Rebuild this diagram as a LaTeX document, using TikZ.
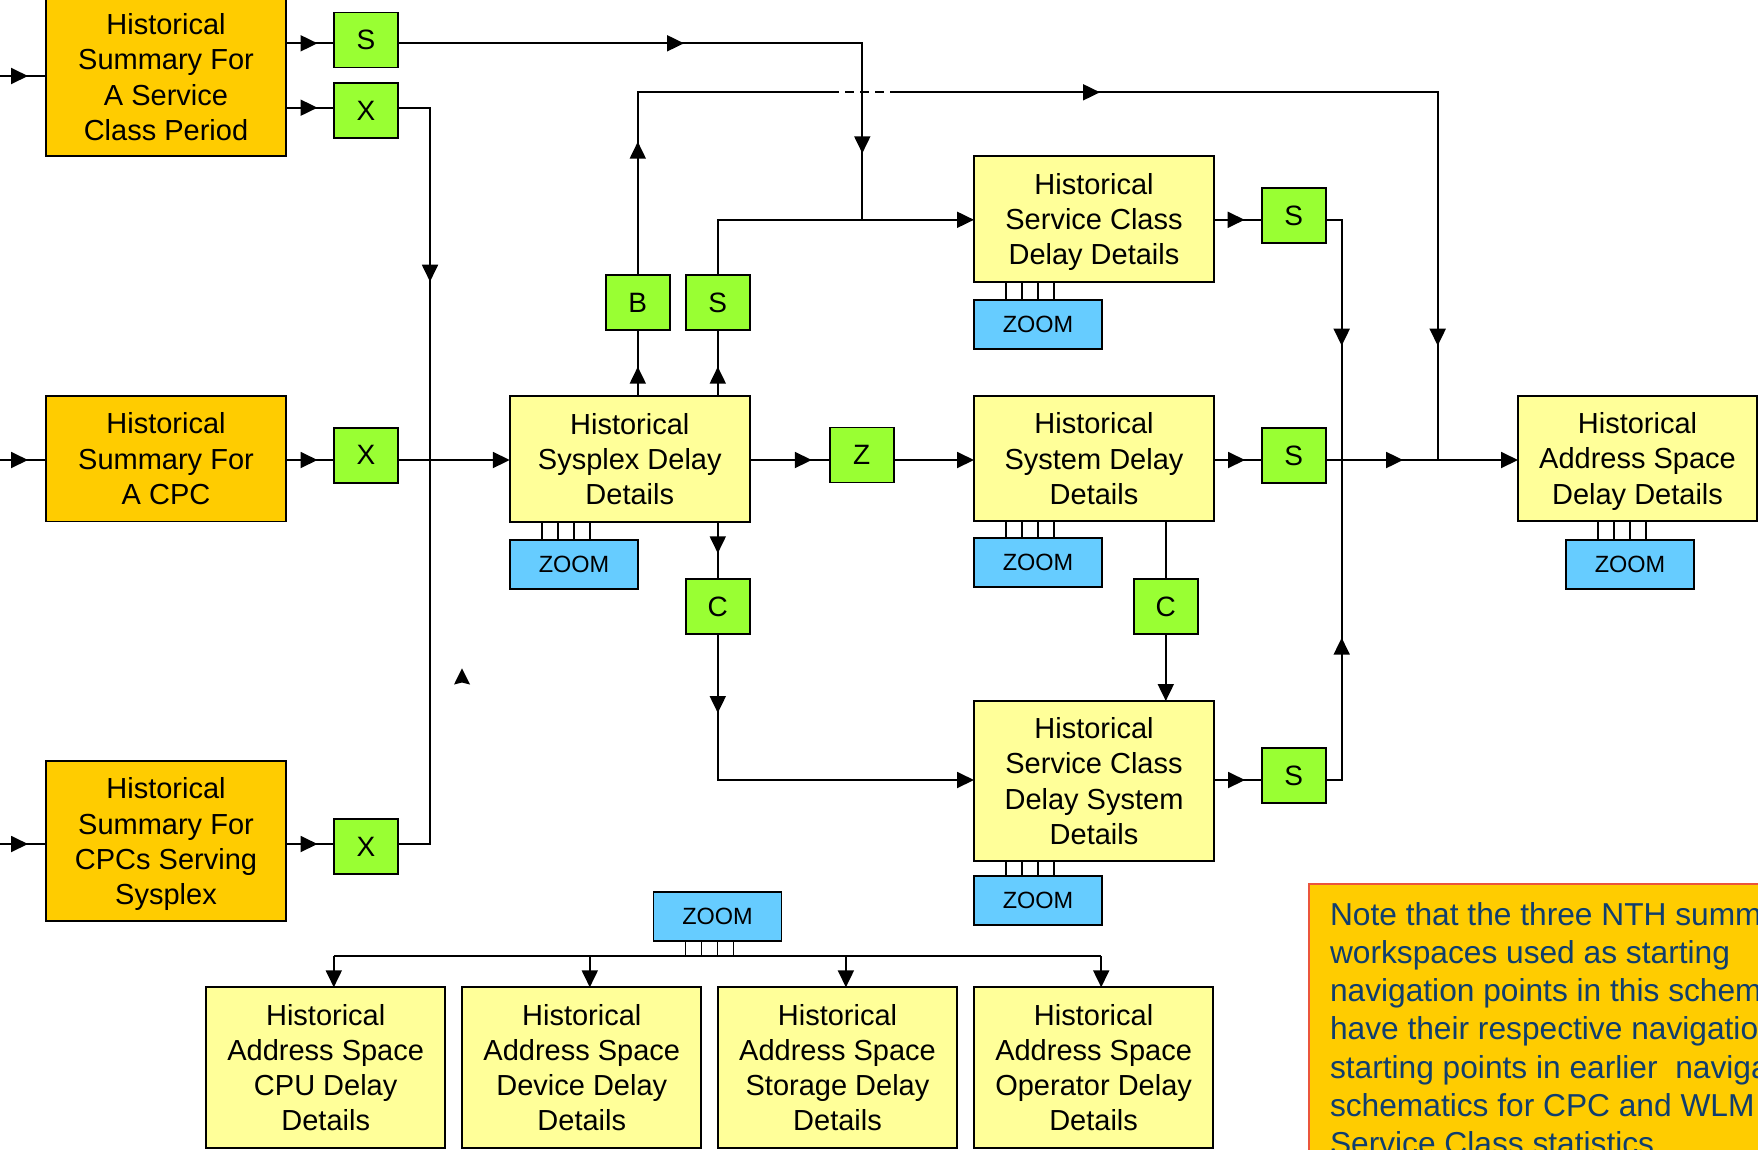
\documentclass[tikz,border=0pt]{standalone}
\usepackage{fontspec}
\setmainfont{Liberation Sans}
\usetikzlibrary{arrows.meta,decorations.markings}

\definecolor{sumorange}{RGB}{255,204,0}
\definecolor{navgreen}{RGB}{153,255,51}
\definecolor{detyellow}{RGB}{255,255,153}
\definecolor{zoomblue}{RGB}{102,204,255}
\definecolor{noteedge}{RGB}{235,85,60}
\definecolor{notetext}{RGB}{16,62,110}

% four short links between a ZOOM box and the box (or bus) it hangs from
\newcommand\zoomlinks[2]{%
  \foreach \dx in {32,48,64,80}{%
    \coordinate (zl) at ([xshift=\dx]#1);
    \draw[link] (zl) -- (zl |- #2);
  }%
}

\begin{document}
\begin{tikzpicture}[x=1pt,y=-1pt,
  >={Triangle[length=17pt,width=16pt]},
  every node/.style={inner sep=0pt, outer sep=0pt},
  box/.style={draw=black, line width=1.8pt, align=center, text depth=0pt,
    font=\fontsize{29}{35.3}\selectfont},
  summary/.style={box, fill=sumorange, minimum width=240},
  detail/.style={box, fill=detyellow, minimum width=240},
  nav/.style={box, fill=navgreen, minimum width=64, minimum height=55,
    font=\fontsize{28}{30}\selectfont},
  zoombox/.style={draw=black, line width=1.8pt, fill=zoomblue,
    minimum width=128, minimum height=48.7, font=\fontsize{23.5}{26}\selectfont},
  conn/.style={line width=1.9pt},
  link/.style={line width=1.1pt},
  arr/.style={conn, ->},
  midarr/.style={postaction={decorate, decoration={markings,
    mark=at position #1 with {\arrow{>}}}}},
]
\useasboundingbox (0,0) rectangle (1758,1149);
\fill[white] (0,0) rectangle (1758,1149);
\clip (0,0) rectangle (1758,1149);

% ---------- summary workspaces ----------
\node[summary, minimum height=157.7] (sumSC) at (166,76.9)
  {Historical\\Summary For\\A Service\\Class Period};
\node[summary, minimum height=125.6] (sumCPC) at (166,458.6)
  {Historical\\Summary For\\A CPC};
\node[summary, minimum height=160] (sumPlex) at (166,841.3)
  {Historical\\Summary For\\CPCs Serving\\Sysplex};

% ---------- navigation links ----------
\node[nav] (navS1) at (366,40) {S};
\node[nav] (navX1) at (366,110.7) {X};
\node[nav] (navX2) at (366,455.3) {X};
\node[nav] (navX3) at (366,846.7) {X};
\node[nav] (navB)  at (637.8,302.7) {B};
\node[nav] (navS2) at (717.8,302.7) {S};
\node[nav] (navC1) at (717.8,606.8) {C};
\node[nav] (navZ)  at (861.7,455) {Z};
\node[nav] (navS3) at (1293.8,215.7) {S};
\node[nav] (navS4) at (1293.8,455.3) {S};
\node[nav] (navC2) at (1165.8,606.8) {C};
\node[nav] (navS5) at (1293.8,775.5) {S};

% ---------- detail workspaces ----------
\node[detail, minimum height=125.4] (sysplex) at (629.8,459)
  {Historical\\Sysplex Delay\\Details};
\node[detail, minimum height=126] (scDelay) at (1094,219)
  {Historical\\Service Class\\Delay Details};
\node[detail, minimum height=125] (sysDelay) at (1094,458.5)
  {Historical\\System Delay\\Details};
\node[detail, minimum height=160] (scSys) at (1094,781)
  {Historical\\Service Class\\Delay System\\Details};
\node[detail, minimum height=125.3, minimum width=239] (asDelay) at (1637.5,458.4)
  {Historical\\Address Space\\Delay Details};

\node[detail, minimum height=160.4, minimum width=239] (asCPU) at (325.7,1067.5)
  {Historical\\Address Space\\CPU Delay\\Details};
\node[detail, minimum height=160.4, minimum width=239] (asDev) at (581.8,1067.5)
  {Historical\\Address Space\\Device Delay\\Details};
\node[detail, minimum height=160.4, minimum width=239] (asStor) at (837.5,1067.5)
  {Historical\\Address Space\\Storage Delay\\Details};
\node[detail, minimum height=160.4, minimum width=239] (asOper) at (1093.6,1067.5)
  {Historical\\Address Space\\Operator Delay\\Details};

% ---------- ZOOM boxes ----------
\node[zoombox] (zSysplex)  at (574,564.3)  {ZOOM};
\node[zoombox] (zScDelay)  at (1038,324.3) {ZOOM};
\node[zoombox] (zSysDelay) at (1038,562.5) {ZOOM};
\node[zoombox] (zScSys)    at (1038,900.5) {ZOOM};
\node[zoombox] (zAsDelay)  at (1630,564.3) {ZOOM};
\node[zoombox] (zAddr)     at (717.5,916.3) {ZOOM};

\zoomlinks{zSysplex.north west}{sysplex.south}
\zoomlinks{zScDelay.north west}{scDelay.south}
\zoomlinks{zSysDelay.north west}{sysDelay.south}
\zoomlinks{zScSys.north west}{scSys.south}
\zoomlinks{zAsDelay.north west}{asDelay.south}

% ---------- line levels and junctions ----------
\coordinate (rowS1)  at (0,43.3);
\coordinate (rowX1)  at (0,107.7);
\coordinate (rowSC)  at (0,219.8);
\coordinate (rowMid) at (0,460);
\coordinate (rowSCS) at (0,780);
\coordinate (rowX3)  at (0,844);
\coordinate (xBus)   at (430,0);
\coordinate (sJoin)  at (862.3,0);
\coordinate (sCol)   at (1341.7,0);
\coordinate (crossA) at (830,92.3);
\coordinate (crossB) at (893.3,92.3);
\coordinate (bRight) at (1437.7,92.3);

% ---------- entry arrows ----------
\coordinate (inSC)   at (0,76);
\coordinate (inCPC)  at (0,460);
\coordinate (inPlex) at (0,844);
\draw[conn, midarr=28pt] (inSC) -- (inSC -| sumSC.west);
\draw[conn, midarr=28pt] (inCPC) -- (inCPC -| sumCPC.west);
\draw[conn, midarr=28pt] (inPlex) -- (inPlex -| sumPlex.west);

% ---------- summaries to their links ----------
\draw[conn, midarr=31.5pt] (sumSC.east |- rowS1) -- (navS1.west |- rowS1);
\draw[conn, midarr=31.5pt] (sumSC.east |- rowX1) -- (navX1.west |- rowX1);
\draw[conn, midarr=31.5pt] (sumCPC.east |- rowMid) -- (navX2.west |- rowMid);
\draw[conn, midarr=31.5pt] (sumPlex.east |- rowX3) -- (navX3.west |- rowX3);

% X links into the sysplex details
\draw[conn, midarr=206pt] (navX1.east |- rowX1) -- (xBus |- rowX1) -- (xBus |- rowMid);
\draw[conn] (navX3.east |- rowX3) -- (xBus |- rowX3) -- (xBus |- rowMid);
\draw[arr] (navX2.east |- rowMid) -- (sysplex.west |- rowMid);
\fill (454,684.5) -- (462,668.3) -- (470,684.5) -- (462,682.5) -- cycle;

% ---------- sysplex details ----------
\draw[conn, midarr=29.6pt] (sysplex.north -| navB) -- (navB.south);
\draw[conn, midarr=29.6pt] (sysplex.north -| navS2) -- (navS2.south);
\draw[conn, midarr=31.6pt] (sysplex.south -| navC1) -- (navC1.north);
\draw[conn, midarr=62pt] (sysplex.east |- rowMid) -- (navZ.west |- rowMid);
\draw[arr] (navZ.east |- rowMid) -- (sysDelay.west |- rowMid);

% B link over the top to the address space details
\draw[conn, midarr=133.5pt] (navB.north) -- (navB.north |- crossA) -- (crossA);
\draw[conn, dash pattern=on 9pt off 6pt] (crossA) -- (crossB);
\draw[conn, midarr=206.7pt, midarr=797.8pt] (crossB) -- (bRight) -- (bRight |- rowMid);

% S links into the service class delay details
\draw[arr] (navS2.north) |- (scDelay.west |- rowSC);
\draw[conn, midarr=286pt, midarr=574.3pt] (navS1.east |- rowS1) -- (sJoin |- rowS1) -- (sJoin |- rowSC);

% C links into the service class delay system details
\draw[arr, midarr=78.7pt] (navC1.south) |- (scSys.west |- rowSCS);
\draw[conn] (sysDelay.south -| navC2) -- (navC2.north);
\draw[arr] (navC2.south) -- (scSys.north -| navC2);

% ---------- S links to the address space details ----------
\draw[conn, midarr=30.6pt] (scDelay.east |- rowSC) -- (navS3.west |- rowSC);
\draw[conn, midarr=31pt] (sysDelay.east |- rowMid) -- (navS4.west |- rowMid);
\draw[conn, midarr=31pt] (scSys.east |- rowSCS) -- (navS5.west |- rowSCS);
\draw[conn, midarr=141.8pt] (navS3.east |- rowSC) -- (sCol |- rowSC) -- (sCol |- rowMid);
\draw[conn, midarr=158.2pt] (navS5.east |- rowSCS) -- (sCol |- rowSCS) -- (sCol |- rowMid);
\draw[arr, midarr=77.3pt] (navS4.east |- rowMid) -- (asDelay.west |- rowMid);

% ---------- address space detail breakdown ----------
\coordinate (bus1) at (333.8,956);
\coordinate (bus2) at (589.8,956);
\coordinate (bus3) at (845.9,956);
\coordinate (bus4) at (1101.2,956);
\zoomlinks{zAddr.south west}{bus1}
\draw[conn] (bus1) -- (bus4);
\draw[arr] (bus1) -- (bus1 |- asCPU.north);
\draw[arr] (bus2) -- (bus2 |- asDev.north);
\draw[arr] (bus3) -- (bus3 |- asStor.north);
\draw[arr] (bus4) -- (bus4 |- asOper.north);

% ---------- note ----------
\node[draw=noteedge, line width=1.8pt, fill=sumorange, minimum width=480,
  minimum height=300, anchor=north west] (note) at (1309.3,884) {};
\foreach \txt [count=\i from 0] in {Note that the three NTH summ,
    workspaces used as starting,
    navigation points in this schem,
    have their respective navigatio,
    starting points in earlier~ naviga,
    schematics for CPC and WLM,
    Service Class statistics}{
  \node[anchor=base west, text=notetext, font=\fontsize{31.7}{38.3}\selectfont]
    (noteline\i) at (1330,925+38.3*\i) {\txt};
}
\end{tikzpicture}
\end{document}
